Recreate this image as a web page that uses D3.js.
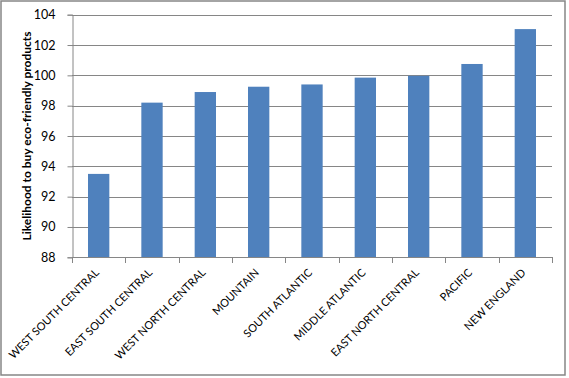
<!DOCTYPE html>
<html>
<head>
<meta charset="utf-8">
<script src="https://cdn.jsdelivr.net/npm/d3@7"></script>
<style>
  body { margin: 0; background: #fff; }
  svg text { font-family: Lato, "Open Sans", sans-serif; fill: #000; }
</style>
</head>
<body>
<svg id="chart" width="569" height="378"></svg>
<script>
var regions = ["WEST SOUTH CENTRAL", "EAST SOUTH CENTRAL", "WEST NORTH CENTRAL", "MOUNTAIN",
  "SOUTH ATLANTIC", "MIDDLE ATLANTIC", "EAST NORTH CENTRAL", "PACIFIC", "NEW ENGLAND"];
var likelihood = [93.5, 98.2, 98.9, 99.25, 99.4, 99.85, 99.97, 100.75, 103.05];
var yTicks = [88, 90, 92, 94, 96, 98, 100, 102, 104];

var svg = d3.select("#chart");

// outer chart border
svg.append("rect")
  .attr("x", 1).attr("y", 1)
  .attr("width", 564).attr("height", 374)
  .attr("fill", "#fff")
  .attr("stroke", "#868686")
  .attr("stroke-width", 1.5);

var plotLeft = 72, plotRight = 552, plotTop = 14.7, plotBottom = 257.3;

var x = d3.scaleBand().domain(regions).range([plotLeft, plotRight]).paddingInner(0.6).paddingOuter(0.3);
var xb = d3.scaleBand().domain(regions).range([plotLeft, plotRight]);
var y = d3.scaleLinear().domain([88, 104]).range([plotBottom, plotTop]);

// gridlines
svg.append("g").selectAll("line")
  .data(yTicks.slice(1))
  .join("line")
  .attr("x1", plotLeft).attr("x2", plotRight)
  .attr("y1", function(d) { return Math.round(y(d)) + 0.5; })
  .attr("y2", function(d) { return Math.round(y(d)) + 0.5; })
  .attr("stroke", "#868686")
  .attr("stroke-width", 1);

// bars
svg.append("g").selectAll("rect")
  .data(likelihood)
  .join("rect")
  .attr("x", function(d, i) { return x(regions[i]); })
  .attr("width", x.bandwidth())
  .attr("y", function(d) { return y(d); })
  .attr("height", function(d) { return plotBottom - y(d); })
  .attr("fill", "#4F81BD");

// y axis
var yAxis = svg.append("g")
  .attr("transform", "translate(" + (plotLeft + 0.5) + ",0)")
  .call(d3.axisLeft(y).tickValues(yTicks).tickSize(5).tickPadding(12));
yAxis.select(".domain").attr("stroke", "#868686");
yAxis.selectAll(".tick line").attr("stroke", "#868686");
yAxis.selectAll(".tick text")
  .style("font-size", "12.5px")
  .attr("fill", "#000");

// x axis baseline and ticks at category boundaries
var xAxis = svg.append("g");
xAxis.append("line")
  .attr("x1", plotLeft).attr("x2", plotRight)
  .attr("y1", Math.round(plotBottom) + 0.5).attr("y2", Math.round(plotBottom) + 0.5)
  .attr("stroke", "#868686");
var bounds = regions.map(function(r) { return xb(r); }).concat([plotRight]);
xAxis.selectAll("line.tk")
  .data(bounds)
  .join("line")
  .attr("class", "tk")
  .attr("x1", function(d) { return Math.round(d) + 0.5; })
  .attr("x2", function(d) { return Math.round(d) + 0.5; })
  .attr("y1", Math.round(plotBottom))
  .attr("y2", Math.round(plotBottom) + 6)
  .attr("stroke", "#868686");

xAxis.selectAll("text")
  .data(regions)
  .join("text")
  .attr("transform", function(d) {
    var cx = xb(d) + xb.bandwidth() / 2 + 1;
    return "translate(" + cx + "," + (plotBottom + 16) + ") rotate(-45)";
  })
  .attr("text-anchor", "end")
  .style("font-size", "11px")
  .text(function(d) { return d; });

// y axis title
svg.append("text")
  .attr("transform", "translate(31," + ((plotTop + plotBottom) / 2) + ") rotate(-90)")
  .attr("text-anchor", "middle")
  .style("font-size", "12px")
  .style("font-weight", "bold")
  .text("Likelihood to buy eco-friendly products");
</script>
</body>
</html>
